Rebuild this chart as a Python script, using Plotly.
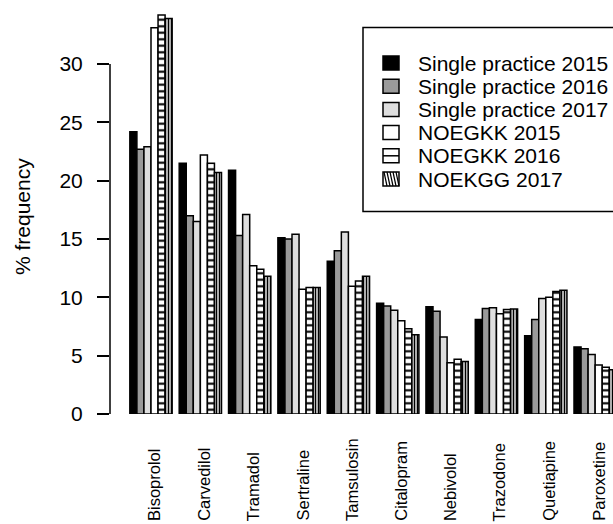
import plotly.graph_objects as go

# Prescription frequency by drug, six cohorts
drugs = ["Bisoprolol", "Carvedilol", "Tramadol", "Sertraline", "Tamsulosin",
         "Citalopram", "Nebivolol", "Trazodone", "Quetiapine", "Paroxetine"]

series_names = ["Single practice 2015", "Single practice 2016", "Single practice 2017",
                "NOEGKK 2015", "NOEGKK 2016", "NOEKGG 2017"]

single_2015 = [24.2, 21.5, 20.9, 15.1, 13.1, 9.5, 9.2, 8.1, 6.7, 5.75]
single_2016 = [22.7, 17.0, 15.3, 15.0, 14.0, 9.25, 8.8, 9.05, 8.1, 5.6]
single_2017 = [22.9, 16.5, 17.1, 15.4, 15.6, 8.9, 6.6, 9.1, 9.9, 5.1]
noegkk_2015 = [33.1, 22.2, 12.7, 10.7, 10.95, 8.0, 4.4, 8.6, 10.0, 4.2]
noegkk_2016 = [34.2, 21.5, 12.4, 10.85, 11.4, 7.3, 4.7, 8.95, 10.5, 4.0]
noekgg_2017 = [33.9, 20.7, 11.8, 10.85, 11.8, 6.8, 4.5, 9.0, 10.6, 3.8]

y_ticks = [0, 5, 10, 15, 20, 25, 30]

series_values = [single_2015, single_2016, single_2017, noegkk_2015, noegkk_2016, noekgg_2017]

FONT = "Liberation Sans, Arial, sans-serif"
W, H = 613, 524
ML, MR, MT, MB = 110, 0, 10, 110
PW, PH = W - ML - MR, H - MT - MB


def fx(px):
    return (px - ML) / PW


def fy(py):
    return (H - MB - py) / PH


styles = [
    dict(color="#000000"),
    dict(color="#9a9a9a"),
    dict(color="#dedede"),
    dict(color="#ffffff"),
    dict(color="#ffffff", pattern=dict(shape="-", fgcolor="#000000", bgcolor="#ffffff",
                                        size=6.5, solidity=0.32, fillmode="replace")),
    dict(color="#ffffff", pattern=dict(shape="|", fgcolor="#000000", bgcolor="#ffffff",
                                        size=3, solidity=0.55, fillmode="replace")),
]

fig = go.Figure()
for name, vals, st in zip(series_names, series_values, styles):
    marker = dict(line=dict(color="#000000", width=1.5), **st)
    fig.add_trace(go.Bar(x=drugs, y=vals, name=name, marker=marker, showlegend=False))

# y-axis spine drawn only across the tick span
shapes = [dict(type="line", xref="paper", yref="y", x0=0, x1=0, y0=y_ticks[0], y1=y_ticks[-1],
               line=dict(color="#000000", width=1.5))]

annotations = []

# rotated drug names below the bars
for d in drugs:
    annotations.append(dict(x=d, xref="x", y=fy(523), yref="paper", text=d, textangle=-90,
                            xanchor="center", yanchor="bottom", showarrow=False, xshift=3,
                            font=dict(family=FONT, size=16.5, color="#000000")))

# y-axis title
annotations.append(dict(x=fx(22), xref="paper", y=fy(217), yref="paper", text="% frequency",
                        textangle=-90, xanchor="center", yanchor="middle", showarrow=False,
                        font=dict(family=FONT, size=21, color="#000000")))

# legend box
shapes.append(dict(type="rect", xref="paper", yref="paper", x0=fx(363), x1=fx(720),
                   y0=fy(211.5), y1=fy(27.5), line=dict(color="#000000", width=1.5),
                   fillcolor="#ffffff", layer="above"))

swatch_fill = ["#000000", "#9a9a9a", "#dedede", "#ffffff", "#ffffff", "#ffffff"]
sx0, sx1 = 383, 399
for i, (name, fill) in enumerate(zip(series_names, swatch_fill)):
    cy = 63 + i * 23.2
    top, bot = cy - 7, cy + 7
    shapes.append(dict(type="rect", xref="paper", yref="paper", x0=fx(sx0), x1=fx(sx1),
                       y0=fy(bot), y1=fy(top), fillcolor=fill,
                       line=dict(color="#000000", width=1.5), layer="above"))
    if i == 4:
        shapes.append(dict(type="line", xref="paper", yref="paper", x0=fx(sx0), x1=fx(sx1),
                           y0=fy(cy), y1=fy(cy), line=dict(color="#000000", width=1.5),
                           layer="above"))
    if i == 5:
        for k in range(5):
            xa = sx0 + 1 + k * 3
            shapes.append(dict(type="line", xref="paper", yref="paper", x0=fx(xa), x1=fx(min(xa + 3, sx1)),
                               y0=fy(top), y1=fy(bot), line=dict(color="#000000", width=1.2),
                               layer="above"))
    annotations.append(dict(x=fx(416), xref="paper", y=fy(cy), yref="paper", text=name,
                            xanchor="left", yanchor="middle", showarrow=False,
                            font=dict(family=FONT, size=21, color="#000000")))

px_per_cat = 49.35
first_center = 151
r0 = -(first_center - ML) / px_per_cat
r1 = r0 + PW / px_per_cat

fig.update_layout(
    width=W, height=H,
    margin=dict(l=ML, r=MR, t=MT, b=MB, pad=0),
    paper_bgcolor="#ffffff", plot_bgcolor="#ffffff",
    barmode="group", bargap=1 / 7, bargroupgap=0,
    font=dict(family=FONT, size=21, color="#000000"),
    shapes=shapes, annotations=annotations,
    xaxis=dict(range=[r0, r1], showticklabels=False, ticks="", showline=False,
               showgrid=False, zeroline=False, fixedrange=True),
    yaxis=dict(range=[0, PH / (350 / 30)], tickvals=y_ticks, ticks="outside", ticklen=12,
               tickwidth=1.5, tickcolor="#000000", showline=False, showgrid=False,
               zeroline=False, ticklabelstandoff=10,
               tickfont=dict(family=FONT, size=21, color="#000000")),
)

fig.write_html("out.html")
